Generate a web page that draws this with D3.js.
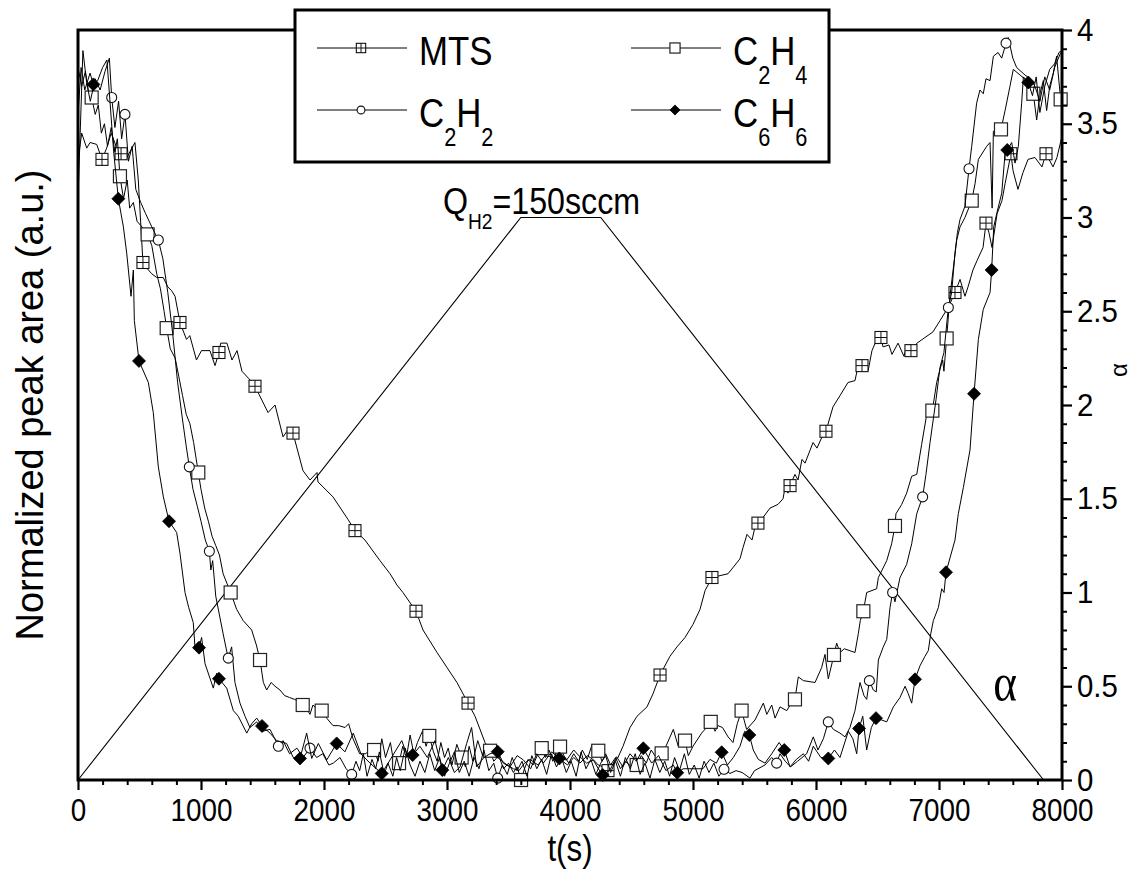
<!DOCTYPE html>
<html>
<head>
<meta charset="utf-8">
<title>Normalized peak area vs time</title>
<script src="https://cdn.jsdelivr.net/npm/d3@7/dist/d3.min.js"></script>
<style>
  html, body { margin: 0; padding: 0; background: #fff; }
  svg { display: block; }
  text { font-family: Arial, "Liberation Sans", Helvetica, sans-serif; fill: #000; }
</style>
</head>
<body>
<svg id="chart" width="1137" height="875"></svg>
<script>
// ---- measured traces: [t (s), normalized peak area (a.u.)] ----
const mtsTrace = [[0,3.30],[30,3.45],[71,3.37],[98,3.40],[152,3.39],[233,3.37],[270,3.45],[310,3.38],[390,3.31],[430,3.36],[463,3.40],[490,3.20],[560,2.73],[599,2.70],[640,2.68],[693,2.68],[730,2.63],[761,2.61],[789,2.58],[882,2.35],[909,2.37],[963,2.24],[1004,2.29],[1073,2.29],[1114,2.21],[1160,2.33],[1211,2.33],[1252,2.24],[1293,2.29],[1333,2.18],[1390,2.14],[1545,1.96],[1602,2.00],[1667,1.83],[1699,1.86],[1829,1.65],[1886,1.60],[1943,1.64],[1951,1.59],[2073,1.51],[2195,1.39],[2333,1.28],[2455,1.17],[2537,1.10],[2593,1.04],[2642,1.00],[2805,0.80],[2919,0.68],[3000,0.60],[3081,0.52],[3228,0.34],[3309,0.20],[3374,0.14],[3431,0.11],[3488,0.08],[3540,0.06],[3585,0.05],[3630,0.09],[3675,0.11],[3740,0.08],[3797,0.13],[3862,0.12],[3919,0.11],[3980,0.08],[4030,0.12],[4081,0.09],[4140,0.13],[4187,0.11],[4230,0.08],[4268,0.07],[4390,0.12],[4431,0.18],[4488,0.28],[4545,0.34],[4626,0.39],[4675,0.46],[4813,0.66],[4870,0.71],[4935,0.76],[5000,0.83],[5057,0.91],[5098,1.01],[5220,1.09],[5285,1.10],[5382,1.18],[5407,1.24],[5439,1.31],[5480,1.28],[5504,1.35],[5569,1.40],[5626,1.45],[5691,1.47],[5732,1.50],[5748,1.56],[5772,1.53],[5829,1.63],[5854,1.60],[5886,1.71],[5911,1.69],[5976,1.80],[6008,1.77],[6049,1.83],[6138,1.99],[6195,2.05],[6260,2.12],[6317,2.13],[6333,2.18],[6423,2.18],[6455,2.29],[6488,2.34],[6545,2.31],[6593,2.32],[6618,2.27],[6667,2.33],[6715,2.26],[6740,2.32],[6821,2.33],[6951,2.39],[7008,2.45],[7065,2.51],[7089,2.54],[7171,2.67],[7211,2.58],[7236,2.63],[7276,2.72],[7309,2.77],[7358,2.84],[7406,2.92],[7431,2.84],[7472,3.02],[7512,3.09],[7537,3.18],[7602,3.25],[7642,3.15],[7683,3.24],[7724,3.31],[7780,3.32],[7837,3.27],[7927,3.27],[7959,3.32],[7995,3.42]];
const mtsMarkers = [[195,3.31],[350,3.34],[528,2.76],[829,2.44],[1146,2.28],[1439,2.10],[1748,1.85],[2252,1.33],[2748,0.90],[3171,0.41],[4309,0.05],[4732,0.56],[5154,1.08],[5528,1.37],[5789,1.57],[6081,1.86],[6374,2.21],[6528,2.36],[6772,2.29],[7130,2.60],[7382,2.97],[7585,3.34],[7870,3.34]];

const c2h4Trace = [[0,3.80],[30,3.70],[60,3.78],[88,3.66],[140,3.55],[165,3.60],[190,3.45],[215,3.50],[240,3.38],[270,3.48],[300,3.35],[320,3.42],[370,3.10],[400,3.20],[420,3.05],[450,3.08],[480,2.98],[520,2.95],[600,2.85],[640,2.70],[670,2.62],[700,2.50],[750,2.30],[790,2.25],[820,2.15],[850,2.05],[880,1.95],[910,1.90],[940,1.80],[1000,1.55],[1030,1.45],[1060,1.38],[1090,1.30],[1120,1.25],[1150,1.20],[1180,1.10],[1210,1.05],[1290,0.91],[1343,0.85],[1412,0.80],[1450,0.72],[1507,0.52],[1534,0.48],[1570,0.52],[1602,0.50],[1642,0.48],[1680,0.45],[1720,0.44],[1760,0.43],[1800,0.42],[1860,0.38],[1886,0.35],[1910,0.40],[1940,0.38],[2022,0.33],[2073,0.29],[2120,0.29],[2171,0.28],[2200,0.30],[2236,0.22],[2290,0.14],[2340,0.14],[2380,0.17],[2440,0.10],[2470,0.22],[2500,0.12],[2540,0.20],[2570,0.08],[2640,0.18],[2670,0.12],[2700,0.24],[2730,0.14],[2760,0.20],[2800,0.26],[2830,0.18],[2890,0.15],[2920,0.10],[2950,0.20],[2980,0.12],[3010,0.17],[3040,0.08],[3080,0.19],[3150,0.07],[3180,0.18],[3210,0.10],[3250,0.21],[3290,0.13],[3320,0.17],[3380,0.10],[3420,0.13],[3460,0.06],[3500,0.09],[3540,0.04],[3570,0.07],[3630,0.06],[3660,0.11],[3700,0.08],[3740,0.14],[3800,0.12],[3830,0.16],[3860,0.10],[3890,0.15],[3950,0.13],[3990,0.09],[4030,0.14],[4070,0.10],[4100,0.16],[4140,0.11],[4180,0.19],[4260,0.10],[4290,0.14],[4330,0.08],[4370,0.12],[4410,0.06],[4450,0.10],[4500,0.07],[4580,0.13],[4620,0.09],[4660,0.16],[4700,0.12],[4780,0.18],[4840,0.27],[4880,0.18],[4962,0.13],[5000,0.18],[5070,0.25],[5110,0.28],[5180,0.26],[5203,0.29],[5240,0.28],[5285,0.23],[5325,0.20],[5360,0.30],[5436,0.27],[5504,0.32],[5572,0.41],[5600,0.35],[5640,0.40],[5667,0.33],[5707,0.39],[5762,0.37],[5800,0.41],[5856,0.55],[5897,0.53],[5992,0.52],[6046,0.60],[6073,0.67],[6100,0.54],[6168,0.73],[6195,0.68],[6230,0.70],[6317,0.68],[6344,0.78],[6360,0.85],[6412,1.00],[6493,1.02],[6507,1.08],[6575,1.17],[6615,1.26],[6650,1.42],[6697,1.47],[6737,1.53],[6778,1.62],[6819,1.63],[6859,1.79],[6913,2.00],[6981,2.12],[7008,2.19],[7030,2.24],[7040,2.18],[7089,2.58],[7144,2.88],[7171,2.95],[7211,3.00],[7293,3.18],[7320,3.31],[7388,3.38],[7415,3.40],[7432,3.05],[7442,3.46],[7537,3.57],[7577,3.70],[7604,3.79],[7659,3.76],[7713,3.73],[7794,3.52],[7821,3.66],[7848,3.73],[7875,3.57],[7900,3.70],[7929,3.77],[7956,3.86]];
const c2h4Markers = [[111,3.64],[341,3.22],[566,2.91],[721,2.41],[978,1.64],[1241,1.00],[1480,0.64],[1827,0.40],[1981,0.37],[2407,0.16],[2610,0.09],[2856,0.235],[3119,0.12],[3350,0.156],[3602,0.0],[3770,0.17],[3919,0.178],[4230,0.156],[4542,0.08],[4745,0.142],[4935,0.21],[5144,0.31],[5395,0.37],[5829,0.43],[6146,0.667],[6385,0.90],[6642,1.355],[6946,1.97],[7062,2.355],[7266,3.09],[7504,3.47],[7767,3.66],[7989,3.63]];

const c2h2Trace = [[0,3.10],[40,3.89],[70,3.72],[100,3.62],[140,3.74],[180,3.68],[220,3.78],[255,3.85],[300,3.48],[330,3.62],[355,3.42],[410,3.30],[440,3.38],[470,3.15],[510,3.08],[550,3.02],[600,2.95],[690,2.78],[730,2.60],[770,2.38],[810,2.12],[850,1.92],[880,1.78],[935,1.55],[970,1.46],[1000,1.38],[1035,1.28],[1080,1.12],[1095,1.17],[1120,0.98],[1150,0.88],[1180,0.78],[1205,0.70],[1249,0.71],[1276,0.52],[1317,0.41],[1358,0.34],[1398,0.28],[1453,0.31],[1500,0.26],[1561,0.27],[1600,0.22],[1667,0.21],[1720,0.14],[1780,0.17],[1830,0.12],[1940,0.12],[1990,0.14],[2040,0.08],[2075,0.09],[2130,0.12],[2180,0.06],[2260,0.10],[2290,0.05],[2320,0.14],[2350,0.02],[2390,0.11],[2420,0.06],[2450,0.15],[2490,0.03],[2520,0.09],[2560,0.02],[2590,0.12],[2620,0.05],[2660,0.17],[2700,0.08],[2740,0.02],[2780,0.10],[2820,0.04],[2860,0.14],[2900,0.05],[2940,0.12],[2980,0.02],[3020,0.09],[3060,0.15],[3100,0.04],[3140,0.10],[3180,0.02],[3220,0.12],[3260,0.06],[3300,0.16],[3340,0.05],[3380,0.09],[3450,0.08],[3490,0.03],[3530,0.12],[3570,0.05],[3610,0.10],[3650,0.02],[3690,0.13],[3730,0.06],[3770,0.11],[3810,0.03],[3850,0.14],[3890,0.07],[3930,0.12],[3970,0.04],[4010,0.10],[4050,0.02],[4090,0.15],[4130,0.06],[4170,0.11],[4210,0.03],[4250,0.09],[4290,0.13],[4330,0.04],[4370,0.10],[4410,0.02],[4450,0.12],[4490,0.06],[4530,0.14],[4570,0.03],[4610,0.09],[4650,0.01],[4690,0.11],[4730,0.04],[4770,0.10],[4810,0.02],[4850,0.12],[4890,0.05],[4930,0.14],[4970,0.03],[5010,0.08],[5050,0.01],[5090,0.10],[5130,0.04],[5170,0.09],[5210,0.02],[5301,0.035],[5350,0.05],[5400,0.04],[5463,0.01],[5500,0.05],[5585,0.08],[5640,0.12],[5707,0.14],[5750,0.10],[5793,0.07],[5850,0.10],[5924,0.14],[5978,0.23],[6016,0.16],[6060,0.22],[6141,0.27],[6195,0.25],[6236,0.23],[6276,0.28],[6317,0.37],[6358,0.52],[6390,0.45],[6412,0.43],[6466,0.48],[6490,0.47],[6507,0.64],[6547,0.71],[6575,0.75],[6602,0.92],[6642,0.95],[6683,1.08],[6737,1.15],[6778,1.26],[6819,1.42],[6894,1.63],[6927,1.80],[6976,2.03],[7008,2.20],[7040,2.28],[7103,2.60],[7130,2.81],[7150,2.92],[7171,2.99],[7211,3.06],[7266,3.38],[7306,3.61],[7333,3.68],[7360,3.66],[7382,3.74],[7415,3.73],[7442,3.86],[7480,3.88],[7510,3.85],[7563,3.96],[7600,3.85],[7631,3.80],[7699,3.76],[7740,3.74],[7780,3.70],[7820,3.62],[7860,3.75],[7900,3.68],[7940,3.80],[7990,3.88]];
const c2h2Markers = [[274,3.64],[382,3.55],[653,2.88],[905,1.67],[1068,1.22],[1222,0.65],[1629,0.18],[1886,0.17],[2225,0.03],[3412,0.01],[5252,0.057],[5680,0.09],[6100,0.31],[6434,0.53],[6623,1.00],[6867,1.51],[7076,2.52],[7244,3.26],[7545,3.93]];

const c6h6Trace = [[0,3.55],[25,3.80],[55,3.68],[98,3.77],[160,3.73],[200,3.80],[235,3.84],[260,3.62],[290,3.35],[369,2.95],[396,2.81],[431,2.58],[450,2.72],[458,2.45],[572,2.12],[612,1.96],[653,1.67],[694,1.51],[802,1.32],[829,1.21],[870,1.00],[900,0.92],[937,0.84],[951,0.71],[1005,0.76],[1033,0.62],[1100,0.49],[1127,0.57],[1209,0.49],[1263,0.37],[1303,0.34],[1372,0.25],[1412,0.30],[1453,0.33],[1561,0.25],[1615,0.21],[1696,0.195],[1750,0.12],[1859,0.25],[1900,0.115],[1954,0.195],[2022,0.107],[2170,0.15],[2238,0.25],[2300,0.14],[2374,0.09],[2537,0.107],[2632,0.21],[2672,0.14],[2780,0.18],[2840,0.12],[2902,0.21],[3011,0.12],[3060,0.04],[3106,0.07],[3160,0.195],[3200,0.28],[3241,0.07],[3300,0.12],[3350,0.14],[3458,0.09],[3512,0.07],[3570,0.13],[3621,0.107],[3680,0.06],[3729,0.14],[3783,0.09],[3850,0.15],[3973,0.107],[4030,0.16],[4081,0.124],[4135,0.09],[4190,0.107],[4230,0.06],[4325,0.053],[4379,0.124],[4430,0.07],[4488,0.14],[4540,0.10],[4664,0.09],[4720,0.13],[4780,0.05],[4840,0.08],[4920,0.06],[5081,0.06],[5138,0.11],[5190,0.09],[5280,0.08],[5328,0.12],[5382,0.18],[5420,0.26],[5490,0.16],[5531,0.11],[5585,0.09],[5640,0.14],[5700,0.20],[5789,0.07],[5840,0.11],[5897,0.14],[5940,0.10],[5978,0.18],[6040,0.12],[6150,0.16],[6195,0.12],[6263,0.26],[6300,0.22],[6331,0.14],[6380,0.34],[6412,0.16],[6450,0.28],[6534,0.32],[6575,0.31],[6629,0.39],[6683,0.44],[6724,0.50],[6750,0.46],[6778,0.41],[6846,0.61],[6886,0.66],[6913,0.69],[6933,0.78],[6954,0.85],[6995,0.92],[7022,1.02],[7041,1.00],[7130,1.28],[7157,1.42],[7198,1.56],[7252,1.76],[7320,2.35],[7360,2.51],[7415,2.60],[7445,2.95],[7469,3.02],[7510,3.13],[7537,3.34],[7591,3.40],[7618,3.29],[7645,3.38],[7672,3.61],[7686,3.75],[7760,3.65],[7790,3.75],[7820,3.56],[7860,3.70],[7900,3.79],[7940,3.82],[7975,3.88],[7995,3.89]];
const c6h6Markers = [[125,3.71],[328,3.10],[496,2.235],[740,1.38],[984,0.706],[1146,0.54],[1496,0.288],[1805,0.115],[2103,0.195],[2469,0.035],[2721,0.133],[2962,0.053],[3412,0.151],[3913,0.115],[4266,0.027],[4596,0.169],[4872,0.039],[5233,0.148],[5458,0.24],[5742,0.16],[6100,0.115],[6350,0.275],[6488,0.33],[6805,0.537],[7057,1.108],[7285,2.06],[7428,2.72],[7555,3.36],[7726,3.72]];

// hydrogen-flow ratio programme (right axis)
const alphaTime  = [0, 3600, 4250, 7850];
const alphaValue = [0, 3, 3, 0];

// tick values and legend names (subscript parts flagged with 1)
const timeTicks  = [0, 1000, 2000, 3000, 4000, 5000, 6000, 7000, 8000];
const alphaTicks = [0, 0.5, 1, 1.5, 2, 2.5, 3, 3.5, 4];
const legendNames = [
  [["MTS", 0]],
  [["C", 0], ["2", 1], ["H", 0], ["4", 1]],
  [["C", 0], ["2", 1], ["H", 0], ["2", 1]],
  [["C", 0], ["6", 1], ["H", 0], ["6", 1]]
];

// ---- layout ----
const SX = 0.87;               // horizontal glyph compression of the artwork
const svg = d3.select("#chart");
const x = d3.scaleLinear().domain([0, 8000]).range([78, 1062]);
const y = d3.scaleLinear().domain([0, 4]).range([780, 30]);
const yAlpha = d3.scaleLinear().domain([0, 4]).range([780, 30]);
const line = d3.line().x(d => x(d[0])).y(d => y(d[1]));

svg.append("rect").attr("width", 1137).attr("height", 875).attr("fill", "#fff");

// α programme
const alphaPts = alphaTime.map((t, i) => [t, alphaValue[i]]);
svg.append("path")
  .attr("d", d3.line().x(d => x(d[0])).y(d => yAlpha(d[1]))(alphaPts))
  .attr("fill", "none").attr("stroke", "#000").attr("stroke-width", 1.1);

// symbols
function drawSymbol(g, kind, cx, cy, k = 1) {
  if (kind === "crossSquare") {
    const h = 6 * k;
    g.append("rect").attr("x", cx - h).attr("y", cy - h).attr("width", 2 * h).attr("height", 2 * h)
      .attr("fill", "#fff").attr("stroke", "#111").attr("stroke-width", 1.1);
    g.append("path").attr("d", `M${cx},${cy - h}V${cy + h}M${cx - h},${cy}H${cx + h}`)
      .attr("stroke", "#111").attr("stroke-width", 1);
  } else if (kind === "square") {
    const h = 6.5 * k;
    g.append("rect").attr("x", cx - h).attr("y", cy - h).attr("width", 2 * h).attr("height", 2 * h)
      .attr("fill", "#fff").attr("stroke", "#222").attr("stroke-width", 1.2);
  } else if (kind === "circle") {
    g.append("circle").attr("cx", cx).attr("cy", cy).attr("r", 5 * k)
      .attr("fill", "#fff").attr("stroke", "#111").attr("stroke-width", 1.1);
  } else if (kind === "diamond") {
    const s = 6.5 * k;
    g.append("path").attr("d", `M${cx},${cy - s}L${cx + s},${cy}L${cx},${cy + s}L${cx - s},${cy}Z`)
      .attr("fill", "#000").attr("stroke", "#000").attr("stroke-width", 0.8);
  }
}

const series = [
  { trace: mtsTrace,  markers: mtsMarkers,  symbol: "crossSquare" },
  { trace: c2h4Trace, markers: c2h4Markers, symbol: "square" },
  { trace: c2h2Trace, markers: c2h2Markers, symbol: "circle" },
  { trace: c6h6Trace, markers: c6h6Markers, symbol: "diamond" }
];

series.forEach(s => {
  const g = svg.append("g");
  const pts = s.trace.concat(s.markers).sort((a, b) => a[0] - b[0]);
  g.append("path").attr("d", line(pts))
    .attr("fill", "none").attr("stroke", "#000").attr("stroke-width", 1)
    .attr("stroke-linejoin", "miter");
  s.markers.forEach(m => drawSymbol(g, s.symbol, x(m[0]), y(m[1])));
});

// ---- frame and axes ----
svg.append("rect")
  .attr("x", x(0)).attr("y", y(4)).attr("width", x(8000) - x(0)).attr("height", y(0) - y(4))
  .attr("fill", "none").attr("stroke", "#000").attr("stroke-width", 3);

function styleAxis(g) {
  g.select(".domain").remove();
  g.attr("font-family", null).attr("font-size", null);
}

// bottom: major + minor ticks
const minorTime = d3.range(0, 8001, 200).filter(v => v % 1000 !== 0);
const gxMinor = svg.append("g").attr("transform", `translate(0,${y(0)})`)
  .call(d3.axisBottom(x).tickValues(minorTime).tickSize(5).tickSizeOuter(0).tickFormat(""));
styleAxis(gxMinor);
gxMinor.selectAll(".tick line").attr("stroke-width", 2);

const gx = svg.append("g").attr("transform", `translate(0,${y(0)})`)
  .call(d3.axisBottom(x).tickValues(timeTicks).tickSize(10).tickSizeOuter(0).tickPadding(8)
    .tickFormat(d => String(d)));
styleAxis(gx);
gx.selectAll(".tick line").attr("stroke-width", 2.2);
gx.selectAll(".tick text").attr("font-size", 32).attr("transform", `scale(${SX},1)`);

// right: α axis
const minorAlpha = d3.range(0, 41).map(v => v / 10).filter(v => Math.round(v * 10) % 5 !== 0);
const gyMinor = svg.append("g").attr("transform", `translate(${x(8000)},0)`)
  .call(d3.axisRight(yAlpha).tickValues(minorAlpha).tickSize(5).tickSizeOuter(0).tickFormat(""));
styleAxis(gyMinor);
gyMinor.selectAll(".tick line").attr("stroke-width", 2);

const RSX = 0.92;
const gy = svg.append("g").attr("transform", `translate(${x(8000)},0)`)
  .call(d3.axisRight(yAlpha).tickValues(alphaTicks).tickSize(10).tickSizeOuter(0).tickPadding(6)
    .tickFormat(d => String(d)));
styleAxis(gy);
gy.selectAll(".tick line").attr("stroke-width", 2.2);
gy.selectAll(".tick text").attr("font-size", 32)
  .attr("x", 15 / RSX).attr("transform", `scale(${RSX},1)`);

// ---- titles ----
function place(xp, yp, extra = "", sx = SX) {
  return `translate(${xp},${yp}) scale(${sx},1)${extra}`;
}

svg.append("text").attr("transform", `translate(43,405) rotate(-90)`)
  .attr("text-anchor", "middle").attr("font-size", 38)
  .text("Normalized peak area (a.u.)");

svg.append("text").attr("transform", place(570, 861))
  .attr("text-anchor", "middle").attr("font-size", 36).text("t(s)");

svg.append("text").attr("transform", `translate(1127,370) rotate(-90)`)
  .attr("text-anchor", "middle").attr("font-size", 24).text("α");

// flow annotation and α marker
const q = svg.append("text").attr("transform", place(443, 214)).attr("font-size", 37);
q.append("tspan").text("Q");
q.append("tspan").attr("font-size", 22).attr("dy", 15).text("H2");
q.append("tspan").attr("dy", -15).text("=150sccm");

svg.append("text").attr("transform", place(1005, 700))
  .attr("text-anchor", "middle").attr("font-size", 52)
  .style("font-family", '"Liberation Serif", "DejaVu Serif", serif').text("α");

// ---- legend ----
const lg = svg.append("g");
lg.append("rect").attr("x", 295).attr("y", 10).attr("width", 534).attr("height", 152)
  .attr("fill", "#fff").attr("stroke", "#000").attr("stroke-width", 3);

const legendSymbols = ["crossSquare", "square", "circle", "diamond"];
const legendCols = [317, 631];
const legendRows = [48, 110];
legendNames.forEach((parts, i) => {
  const col = legendCols[i % 2], row = legendRows[Math.floor(i / 2)];
  lg.append("line").attr("x1", col).attr("x2", col + 90).attr("y1", row).attr("y2", row)
    .attr("stroke", "#000").attr("stroke-width", 1);
  drawSymbol(lg, legendSymbols[i], col + 44, row, 0.78);
  const t = lg.append("text").attr("transform", place(col + 102, row + 17)).attr("font-size", 40);
  let down = false;
  parts.forEach(([str, sub]) => {
    const ts = t.append("tspan").text(str);
    if (sub && !down) { ts.attr("font-size", 25).attr("dy", 19); down = true; }
    else if (!sub && down) { ts.attr("dy", -19); down = false; }
    else if (sub) ts.attr("font-size", 25);
  });
});
</script>
</body>
</html>
